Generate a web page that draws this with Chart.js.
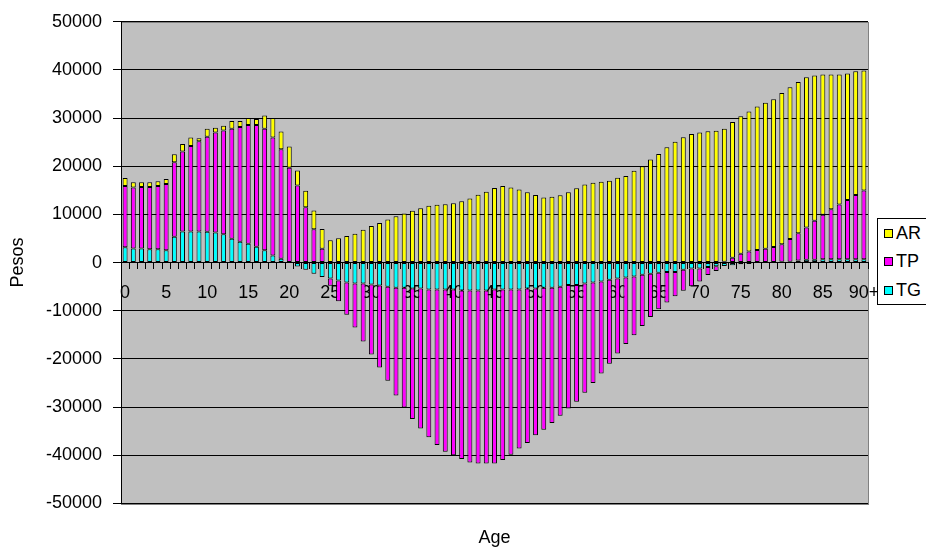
<!DOCTYPE html>
<html><head><meta charset="utf-8">
<script src="https://cdn.jsdelivr.net/npm/chart.js@4.4.0/dist/chart.umd.min.js"></script>
<style>
html,body{margin:0;padding:0;background:#fff;overflow:hidden;width:926px;height:550px;}
#wrap{position:relative;width:926px;height:550px;}
#legend{position:absolute;left:877px;top:218px;width:80px;height:87px;background:#fff;border:1px solid #000;box-sizing:border-box;font:18px "Liberation Sans",Arial,sans-serif;color:#000;}
.item{position:absolute;left:6px;height:20px;display:flex;align-items:center;white-space:nowrap;}
.sw{width:7px;height:7px;border:1px solid #000;margin-right:3px;}
</style></head>
<body><div id="wrap"><canvas id="c" width="926" height="550"></canvas><div id="legend"></div></div>
<script>
const ages = [];
for (let a = 0; a < 90; a++) ages.push(String(a));
ages.push('90+');

const seriesNames = ['TG', 'TP', 'AR'];
const seriesColors = ['#00FFFF', '#FF00FF', '#FFFF00'];

const TG = [3200,2950,2950,2750,2750,2550,5350,6450,6450,6450,
  6400,6250,5900,4950,4350,3900,3300,2550,1500,800,
  100,-800,-1500,-2300,-3000,-3300,-3700,-4150,-4350,-4350,
  -4550,-4750,-5000,-5200,-5200,-5400,-5400,-5600,-5600,-5600,
  -5600,-5800,-5800,-5800,-5800,-5600,-5600,-5600,-5600,-5400,
  -5400,-5200,-5200,-5000,-4650,-4650,-4350,-4150,-3950,-3550,
  -3300,-3100,-2900,-2500,-2300,-2100,-1950,-1950,-1500,-1200,
  -1200,-900,-750,-700,-550,-350,-300,-100,0,100,
  200,200,450,600,600,700,700,700,700,700,700];

const TP = [12700,12650,12750,12950,13150,13750,15500,16600,17750,18750,
  19750,20750,21550,22850,23800,24650,25250,25250,24500,22750,
  19600,16000,11500,6950,2900,-1500,-4300,-6700,-9150,-12050,
  -14550,-17050,-19550,-22400,-24900,-27100,-29050,-30650,-32250,-33650,
  -34400,-35000,-35700,-35900,-35900,-36100,-35400,-34300,-33000,-32050,
  -30450,-29500,-28100,-26800,-25650,-24250,-22650,-20850,-19100,-17450,
  -15600,-13800,-12200,-10650,-9000,-7600,-6350,-5050,-4350,-3700,
  -2750,-1700,-1000,200,1000,1850,2300,2600,2900,3150,
  3600,4700,5650,6700,8100,9250,10400,11350,12300,13350,14250];

const AR = [1650,1100,1000,1000,1000,1050,1650,1600,1800,600,
  1650,1000,950,1600,1250,1450,1250,2750,4000,3650,
  4400,3100,3400,3850,4100,4650,5050,5500,6000,6800,
  7600,8200,8950,9600,10200,10750,11300,11800,12000,12100,
  12300,12750,13300,14100,14700,15500,15900,15600,15200,14600,
  14050,13500,13650,14000,14600,15450,16200,16600,16800,17000,
  17600,18000,19050,20000,21400,22550,23950,25100,26050,26700,
  27000,27250,27400,27600,28200,28550,29100,29800,30300,30650,
  31400,31500,31400,31200,30150,29100,27950,27000,26250,25700,24950];

const yTicks = [-50000,-40000,-30000,-20000,-10000,0,10000,20000,30000,40000,50000];
const seriesData = [TG, TP, AR];

const FONT = '"Liberation Sans", Arial, sans-serif';

// HTML legend (reverse order like the original)
const leg = document.getElementById('legend');
const legTops = [4, 32, 61];
[2,1,0].forEach((si, k) => {
  const d = document.createElement('div');
  d.className = 'item';
  d.style.top = legTops[k] + 'px';
  d.innerHTML = '<span class="sw" style="background:' + seriesColors[si] + '"></span><span>' + seriesNames[si] + '</span>';
  leg.appendChild(d);
});

const plotBg = {
  id: 'plotBg',
  beforeDraw(chart) {
    const {ctx, chartArea: a} = chart;
    ctx.save();
    ctx.fillStyle = '#C0C0C0';
    ctx.fillRect(a.left, a.top, a.right - a.left, a.bottom - a.top);
    ctx.strokeStyle = '#808080';
    ctx.lineWidth = 1;
    ctx.strokeRect(Math.round(a.left) + 0.5, Math.round(a.top) + 0.5, Math.round(a.right - a.left), Math.round(a.bottom - a.top));
    ctx.restore();
  }
};

new Chart(document.getElementById('c'), {
  type: 'bar',
  data: {
    labels: ages,
    datasets: seriesData.map((d, i) => ({
      label: seriesNames[i],
      data: d,
      backgroundColor: seriesColors[i],
      borderColor: '#000',
      borderWidth: 1,
      borderSkipped: false,
      barPercentage: 0.6,
      categoryPercentage: 1.0
    }))
  },
  options: {
    responsive: false,
    animation: false,
    layout: {padding: {top: 20, right: 58, bottom: 0, left: 0}},
    plugins: {
      legend: {display: false},
      tooltip: {enabled: false},
      title: {
        display: true, text: 'Age', position: 'bottom', fullSize: false,
        color: '#000', font: {family: FONT, size: 18, weight: 'normal'},
        padding: {top: 24, bottom: 1}
      }
    },
    scales: {
      x: {
        stacked: true,
        position: {y: 0},
        offset: true,
        grid: {display: true, drawOnChartArea: false, drawTicks: true, tickLength: 6, color: '#000', offset: true},
        border: {display: true, color: '#000', width: 1},
        ticks: {
          autoSkip: false, maxRotation: 0, minRotation: 0, padding: 14,
          color: '#000', font: {family: FONT, size: 18},
          callback: (v, i) => (i % 5 === 0 ? ages[i] : '')
        }
      },
      y: {
        stacked: true,
        min: yTicks[0], max: yTicks[yTicks.length - 1],
        afterBuildTicks: (s) => { s.ticks = yTicks.map(v => ({value: v})); },
        afterFit: (s) => { s.width = 121; },
        grid: {color: '#000', lineWidth: 1, tickLength: 8, drawTicks: true},
        border: {display: true, color: '#000', width: 1},
        ticks: {
          padding: 11, color: '#000', font: {family: FONT, size: 18},
          callback: (v) => String(v)
        },
        title: {
          display: true, text: 'Pesos', color: '#000',
          font: {family: FONT, size: 18, weight: 'normal'},
          padding: {top: 7, bottom: 0}
        }
      }
    }
  },
  plugins: [plotBg]
});
</script>
</body></html>
